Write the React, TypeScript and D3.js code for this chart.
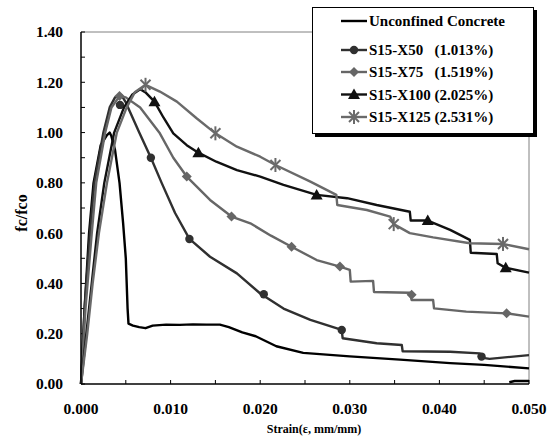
import React from "react";
import * as d3 from "d3";

type P = [number, number];

const xTicks = [0, 0.005, 0.01, 0.015, 0.02, 0.025, 0.03, 0.035, 0.04, 0.045, 0.05];
const xLabels = ["0.000", "0.010", "0.020", "0.030", "0.040", "0.050"];
const yTicks = [0, 0.1, 0.2, 0.3, 0.4, 0.5, 0.6, 0.7, 0.8, 0.9, 1.0, 1.1, 1.2, 1.3, 1.4];
const yLabels = ["0.00", "0.20", "0.40", "0.60", "0.80", "1.00", "1.20", "1.40"];

const unconfined: P[] = [
  [0, 0], [0.0004, 0.3], [0.0009, 0.6], [0.0014, 0.8], [0.0022, 0.95], [0.0029, 0.99], [0.0032, 1.0],
  [0.0034, 0.985], [0.0038, 0.93], [0.0043, 0.8], [0.0047, 0.64], [0.005, 0.5], [0.0052, 0.3],
  [0.0053, 0.24], [0.0058, 0.232], [0.0065, 0.226], [0.0072, 0.222], [0.008, 0.232], [0.0095, 0.236],
  [0.011, 0.235], [0.0125, 0.237], [0.014, 0.236], [0.0155, 0.236], [0.0165, 0.226], [0.018, 0.205],
  [0.0195, 0.19], [0.0218, 0.15], [0.0248, 0.124], [0.03, 0.11], [0.0356, 0.097], [0.0412, 0.083],
  [0.045, 0.076], [0.05, 0.062],
];
const unconfinedTail: P[] = [[0.0478, 0.007], [0.0484, 0.012], [0.05, 0.012]];

const x50: P[] = [
  [0, 0], [0.0004, 0.3], [0.001, 0.6], [0.0015, 0.8], [0.0025, 1.0], [0.0032, 1.1], [0.0038, 1.14],
  [0.0045, 1.15], [0.005, 1.12], [0.0055, 1.08], [0.0065, 1.0], [0.0078, 0.9], [0.009, 0.8],
  [0.0105, 0.68], [0.0121, 0.577], [0.0144, 0.506], [0.0174, 0.44], [0.02, 0.36], [0.0226, 0.3],
  [0.0256, 0.255], [0.0291, 0.215], [0.0292, 0.182], [0.033, 0.162], [0.0358, 0.155], [0.0359, 0.13],
  [0.0412, 0.128], [0.0445, 0.122], [0.0447, 0.105], [0.0456, 0.1], [0.05, 0.115],
];
const x50Marks: P[] = [[0.00435, 1.11], [0.0078, 0.9], [0.0121, 0.577], [0.0204, 0.357], [0.0291, 0.215], [0.0447, 0.109]];

const x75: P[] = [
  [0, 0], [0.0005, 0.3], [0.0012, 0.6], [0.0017, 0.8], [0.0027, 1.0], [0.0034, 1.1], [0.0043, 1.145],
  [0.005, 1.14], [0.0066, 1.1], [0.0088, 0.997], [0.0103, 0.9], [0.0118, 0.825], [0.0144, 0.732],
  [0.0168, 0.666], [0.0189, 0.639], [0.0212, 0.59], [0.0235, 0.546], [0.0263, 0.493], [0.0289, 0.467],
  [0.03, 0.454], [0.0301, 0.407], [0.0326, 0.41], [0.0327, 0.366], [0.0367, 0.363], [0.0369, 0.334],
  [0.0393, 0.334], [0.0394, 0.301], [0.043, 0.288], [0.0475, 0.281], [0.05, 0.268],
];
const x75Marks: P[] = [[0.0043, 1.145], [0.0118, 0.825], [0.0168, 0.666], [0.0235, 0.546], [0.0289, 0.467], [0.0369, 0.355], [0.0475, 0.281]];

const x100: P[] = [
  [0, 0], [0.0006, 0.2], [0.0012, 0.4], [0.0018, 0.6], [0.0026, 0.8], [0.0037, 1.0], [0.0048, 1.1],
  [0.0057, 1.15], [0.0066, 1.172], [0.0072, 1.16], [0.0082, 1.123], [0.0092, 1.06], [0.0103, 0.997],
  [0.0118, 0.95], [0.0131, 0.92], [0.0151, 0.884], [0.0174, 0.851], [0.02, 0.825], [0.0226, 0.792],
  [0.0263, 0.752], [0.0297, 0.739], [0.033, 0.712], [0.0367, 0.685], [0.0368, 0.65], [0.0387, 0.65],
  [0.0412, 0.613], [0.0434, 0.573], [0.0435, 0.522], [0.0464, 0.517], [0.0465, 0.48], [0.0474, 0.462],
  [0.05, 0.443],
];
const x100Marks: P[] = [[0.0082, 1.123], [0.0131, 0.92], [0.0263, 0.752], [0.0387, 0.65], [0.0474, 0.462]];

const x125: P[] = [
  [0, 0], [0.0007, 0.2], [0.0013, 0.4], [0.002, 0.6], [0.0029, 0.8], [0.004, 1.0], [0.0051, 1.1],
  [0.006, 1.16], [0.0072, 1.19], [0.0088, 1.163], [0.0107, 1.123], [0.0129, 1.057], [0.015, 0.997],
  [0.0174, 0.944], [0.02, 0.904], [0.0217, 0.871], [0.0256, 0.805], [0.0285, 0.752], [0.0286, 0.712],
  [0.0319, 0.692], [0.0345, 0.666], [0.0349, 0.636], [0.0367, 0.6], [0.0393, 0.583], [0.0434, 0.56],
  [0.0471, 0.557], [0.05, 0.536],
];
const x125Marks: P[] = [[0.0072, 1.19], [0.015, 0.997], [0.0217, 0.871], [0.0349, 0.636], [0.0471, 0.557]];

const legendLabels = [
  "Unconfined Concrete",
  "S15-X50   (1.013%)",
  "S15-X75   (1.519%)",
  "S15-X100 (2.025%)",
  "S15-X125 (2.531%)",
];

const W = 553, H = 438;
const L = 81, R = 529, T = 32, B = 384;
const FONT = "Liberation Serif, Times New Roman, DejaVu Serif, serif";

const xs = d3.scaleLinear().domain([0, 0.05]).range([L, R]);
const ys = d3.scaleLinear().domain([0, 1.4]).range([B, T]);
const line = d3.line<P>().x((d) => xs(d[0])).y((d) => ys(d[1]));

type Kind = "none" | "circle" | "diamond" | "triangle" | "star";

function Marker({ kind, cx, cy, color }: { kind: Kind; cx: number; cy: number; color: string }) {
  if (kind === "circle") return <circle cx={cx} cy={cy} r={4.2} fill={color} />;
  if (kind === "diamond")
    return <path d={`M${cx},${cy - 5}L${cx + 5},${cy}L${cx},${cy + 5}L${cx - 5},${cy}Z`} fill={color} />;
  if (kind === "triangle")
    return <path d={`M${cx},${cy - 6}L${cx + 6},${cy + 4.5}L${cx - 6},${cy + 4.5}Z`} fill={color} />;
  if (kind === "star")
    return (
      <g stroke={color} strokeWidth={2}>
        <line x1={cx - 5} y1={cy - 5} x2={cx + 5} y2={cy + 5} />
        <line x1={cx - 5} y1={cy + 5} x2={cx + 5} y2={cy - 5} />
        <line x1={cx} y1={cy - 7} x2={cx} y2={cy + 7} />
      </g>
    );
  return null;
}

const series: { data: P[]; marks: P[]; color: string; kind: Kind }[] = [
  { data: unconfined, marks: [], color: "#000000", kind: "none" },
  { data: x50, marks: x50Marks, color: "#303030", kind: "circle" },
  { data: x75, marks: x75Marks, color: "#666666", kind: "diamond" },
  { data: x100, marks: x100Marks, color: "#111111", kind: "triangle" },
  { data: x125, marks: x125Marks, color: "#6a6a6a", kind: "star" },
];

const textStyle: React.CSSProperties = { fontFamily: FONT, fontWeight: "bold", whiteSpace: "pre" };

export default function App() {
  const legendY = [21, 50, 72, 94.5, 117];
  return (
    <svg width={W} height={H} style={{ position: "absolute", left: 0, top: 0, background: "#fff", fontFamily: FONT }}>
      <rect x={0} y={0} width={W} height={H} fill="#fff" />
      <line x1={L} y1={T} x2={R} y2={T} stroke="#808080" strokeWidth={1} />
      <line x1={R} y1={T} x2={R} y2={B} stroke="#808080" strokeWidth={1} />
      {yTicks.map((t, i) => (
        <line key={"yt" + i} x1={L} x2={L + 4} y1={ys(t)} y2={ys(t)} stroke="#000" strokeWidth={1} />
      ))}
      {xTicks.map((t, i) => (
        <line key={"xt" + i} x1={xs(t)} x2={xs(t)} y1={B} y2={B - 4} stroke="#000" strokeWidth={1} />
      ))}
      {series.map((s, i) => (
        <g key={"s" + i}>
          <path d={line(s.data) || ""} fill="none" stroke={s.color} strokeWidth={2.4} strokeLinejoin="round" />
          {s.marks.map((m, j) => (
            <Marker key={j} kind={s.kind} cx={xs(m[0])} cy={ys(m[1])} color={s.color} />
          ))}
        </g>
      ))}
      <path d={line(unconfinedTail) || ""} fill="none" stroke="#000" strokeWidth={2.4} />
      <line x1={L} y1={T} x2={L} y2={B} stroke="#000" strokeWidth={1.5} />
      <line x1={L} y1={B} x2={R} y2={B} stroke="#000" strokeWidth={1.5} />
      {yLabels.map((lab, i) => (
        <text key={"yl" + i} x={63} y={ys(i * 0.2)} dy="0.35em" textAnchor="end" fontSize={15.5} style={textStyle}>
          {lab}
        </text>
      ))}
      {xLabels.map((lab, i) => (
        <text key={"xl" + i} x={xs(i * 0.01)} y={414} textAnchor="middle" fontSize={15.5} style={textStyle}>
          {lab}
        </text>
      ))}
      <text x={314} y={433} textAnchor="middle" fontSize={12} style={textStyle}>
        Strain(ε, mm/mm)
      </text>
      <text transform="translate(27,213) rotate(-90)" textAnchor="middle" fontSize={16} style={textStyle}>
        fc/fco
      </text>
      <rect x={315} y={10} width={222} height={127} fill="#000" />
      <rect x={312.5} y={7.5} width={221} height={126} fill="#fff" stroke="#000" strokeWidth={1} />
      {series.map((s, i) => (
        <g key={"lg" + i}>
          <line x1={341} x2={367} y1={legendY[i]} y2={legendY[i]} stroke={s.color} strokeWidth={2.4} />
          <Marker kind={s.kind} cx={354} cy={legendY[i]} color={s.color} />
          <text x={369} y={legendY[i]} dy="0.35em" fontSize={15} style={textStyle}>
            {legendLabels[i]}
          </text>
        </g>
      ))}
    </svg>
  );
}
